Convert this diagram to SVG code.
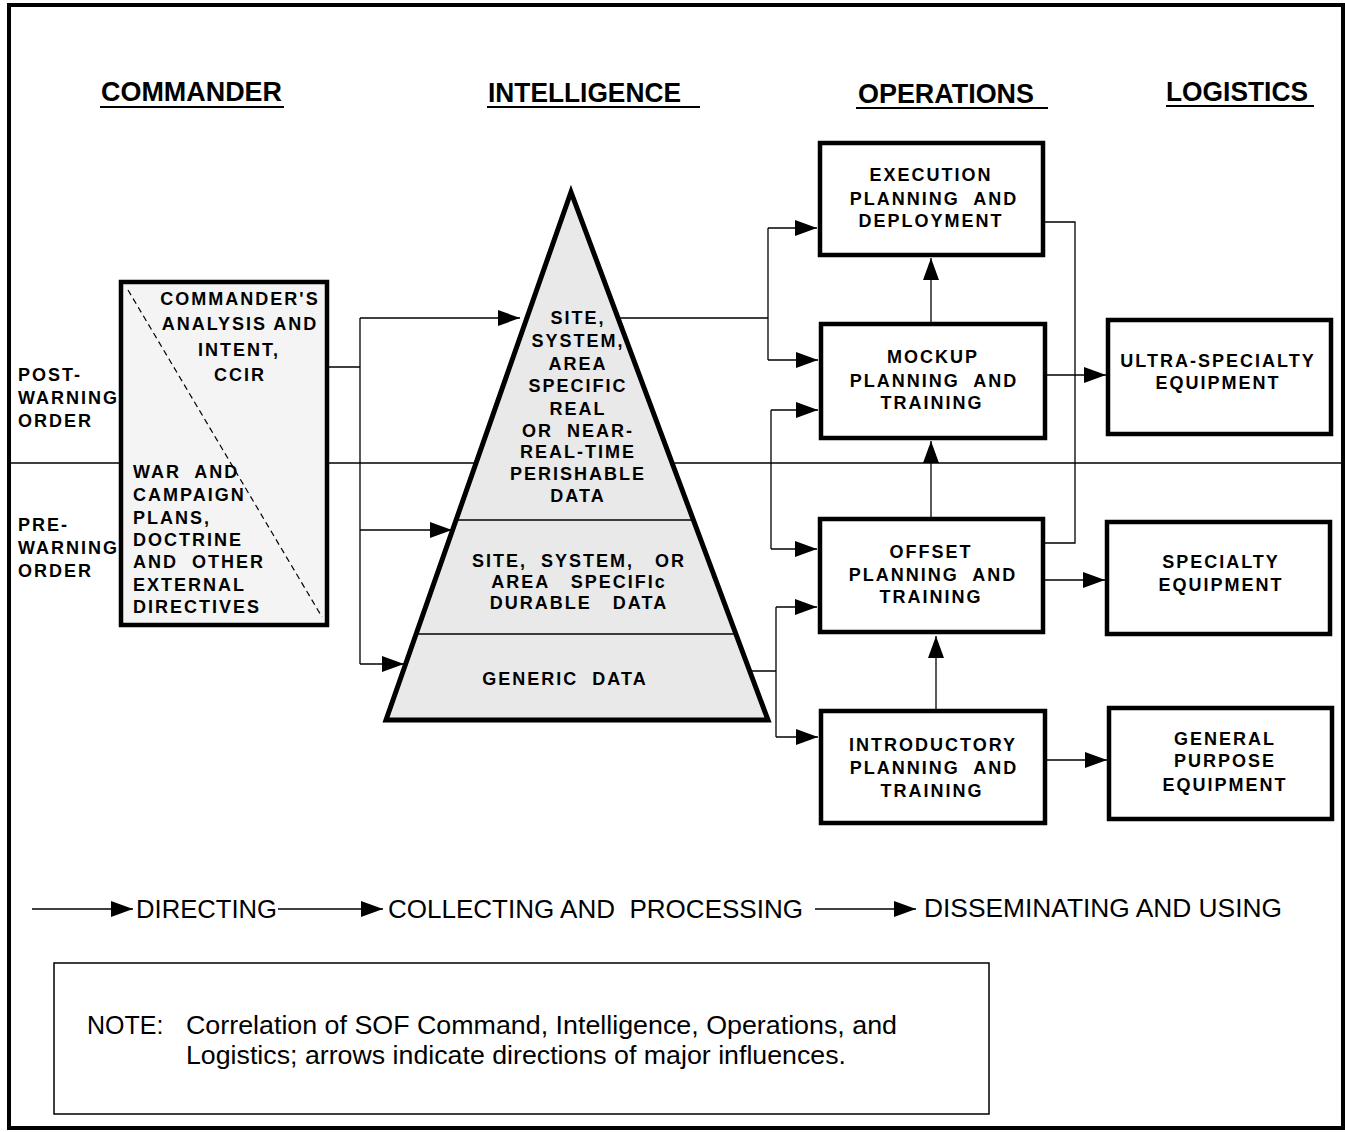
<svg xmlns="http://www.w3.org/2000/svg" width="1345" height="1132" viewBox="0 0 1345 1132">
<defs>
<style>
text { white-space: pre; fill: #000; }
.hdr { font-family: "Liberation Sans", Arial, sans-serif; font-size: 27px; font-weight: bold; }
.lbl { font-family: "Liberation Sans", Arial, sans-serif; font-size: 18px; font-weight: bold; letter-spacing: 2px; }
.mid { text-anchor: middle; }
.leg { font-family: "Liberation Sans", Arial, sans-serif; font-size: 26px; }
.note { font-family: "Liberation Sans", Arial, sans-serif; font-size: 25px; }
.box { fill: #fff; stroke: #000; stroke-width: 4.5; }
.ln { fill: none; stroke: #000; stroke-width: 1.3; }
.ul { stroke: #000; stroke-width: 2; }
</style>
<marker id="ah" markerWidth="22" markerHeight="16" refX="22" refY="8" orient="auto" markerUnits="userSpaceOnUse">
<path d="M0,0 L22,8 L0,16 z" fill="#000"/>
</marker>
</defs>
<rect width="1345" height="1132" fill="#fff"/>
<rect x="9" y="5" width="1334" height="1123" fill="none" stroke="#000" stroke-width="4"/>

<g id="headers">
<text class="hdr" x="101" y="101" textLength="181" lengthAdjust="spacingAndGlyphs">COMMANDER</text>
<line class="ul" x1="100" y1="107" x2="284" y2="107"/>
<text class="hdr" x="488" y="102" textLength="193" lengthAdjust="spacingAndGlyphs">INTELLIGENCE</text>
<line class="ul" x1="487" y1="107" x2="700" y2="107"/>
<text class="hdr" x="858" y="103" textLength="176" lengthAdjust="spacingAndGlyphs">OPERATIONS</text>
<line class="ul" x1="856" y1="108" x2="1048" y2="108"/>
<text class="hdr" x="1166" y="101" textLength="142" lengthAdjust="spacingAndGlyphs">LOGISTICS</text>
<line class="ul" x1="1166" y1="106" x2="1314" y2="106"/>
</g>

<g id="phase-labels">
<text class="lbl" x="18" y="381">POST-</text>
<text class="lbl" x="18" y="404">WARNING</text>
<text class="lbl" x="18" y="427">ORDER</text>
<text class="lbl" x="18" y="531">PRE-</text>
<text class="lbl" x="18" y="554">WARNING</text>
<text class="lbl" x="18" y="577">ORDER</text>
</g>

<g id="connectors">
<path class="ln" d="M9,463 H1343"/>
<path class="ln" d="M327,367 H360 M360,318 V664"/>
<path class="ln" d="M360,318 H520" marker-end="url(#ah)"/>
<path class="ln" d="M360,530 H452" marker-end="url(#ah)"/>
<path class="ln" d="M360,664 H404" marker-end="url(#ah)"/>
<path class="ln" d="M618,318 H768 M768,228 V360"/>
<path class="ln" d="M768,228 H817" marker-end="url(#ah)"/>
<path class="ln" d="M768,360 H818" marker-end="url(#ah)"/>
<path class="ln" d="M771,410 V549"/>
<path class="ln" d="M771,410 H818" marker-end="url(#ah)"/>
<path class="ln" d="M771,549 H817" marker-end="url(#ah)"/>
<path class="ln" d="M749,671 H776 M776,607 V737"/>
<path class="ln" d="M776,607 H817" marker-end="url(#ah)"/>
<path class="ln" d="M776,737 H818" marker-end="url(#ah)"/>
<path class="ln" d="M1043,222 H1075 V543 H1043"/>
<path class="ln" d="M931,324 V258" marker-end="url(#ah)"/>
<path class="ln" d="M931,519 V441" marker-end="url(#ah)"/>
<path class="ln" d="M936,711 V636" marker-end="url(#ah)"/>
<path class="ln" d="M1045,375 H1106" marker-end="url(#ah)"/>
<path class="ln" d="M1043,580 H1105" marker-end="url(#ah)"/>
<path class="ln" d="M1045,760 H1107" marker-end="url(#ah)"/>
</g>

<g id="commander">
<rect x="121" y="282" width="206" height="343" fill="#f4f4f4" stroke="#000" stroke-width="4.5"/>
<line x1="128" y1="290" x2="322" y2="617" stroke="#000" stroke-width="1.2" stroke-dasharray="6 4"/>
<text class="lbl mid" x="240" y="305">COMMANDER'S</text>
<text class="lbl mid" x="240" y="330">ANALYSIS AND</text>
<text class="lbl mid" x="239" y="356">INTENT,</text>
<text class="lbl mid" x="240" y="381">CCIR</text>
<text class="lbl" x="133" y="478">WAR  AND</text>
<text class="lbl" x="133" y="501">CAMPAIGN</text>
<text class="lbl" x="133" y="524">PLANS,</text>
<text class="lbl" x="133" y="546">DOCTRINE</text>
<text class="lbl" x="133" y="568">AND  OTHER</text>
<text class="lbl" x="133" y="591">EXTERNAL</text>
<text class="lbl" x="133" y="613">DIRECTIVES</text>
</g>

<g id="pyramid">
<polygon points="571,192 768,720 386,720" fill="#e9e9e9"/>
<line x1="456" y1="520" x2="693" y2="520" stroke="#000" stroke-width="1.3"/>
<line x1="416" y1="634" x2="736" y2="634" stroke="#000" stroke-width="1.3"/>
<polygon points="571,192 768,720 386,720" fill="none" stroke="#000" stroke-width="5" stroke-linejoin="miter"/>
<text class="lbl mid" x="578" y="324">SITE,</text>
<text class="lbl mid" x="578" y="347">SYSTEM,</text>
<text class="lbl mid" x="578" y="370">AREA</text>
<text class="lbl mid" x="578" y="392">SPECIFIC</text>
<text class="lbl mid" x="578" y="415">REAL</text>
<text class="lbl mid" x="578" y="437">OR  NEAR-</text>
<text class="lbl mid" x="578" y="458">REAL-TIME</text>
<text class="lbl mid" x="578" y="480">PERISHABLE</text>
<text class="lbl mid" x="578" y="502">DATA</text>
<text class="lbl mid" x="579" y="567">SITE,  SYSTEM,   OR</text>
<text class="lbl mid" x="579" y="588">AREA   SPECIFIc</text>
<text class="lbl mid" x="579" y="609">DURABLE   DATA</text>
<text class="lbl mid" x="565" y="685">GENERIC  DATA</text>
</g>

<g id="execution">
<rect class="box" x="820" y="143" width="223" height="112"/>
<text class="lbl mid" x="931" y="181">EXECUTION</text>
<text class="lbl mid" x="934" y="205">PLANNING  AND</text>
<text class="lbl mid" x="931" y="227">DEPLOYMENT</text>
</g>
<g id="mockup">
<rect class="box" x="821" y="324" width="224" height="114"/>
<text class="lbl mid" x="933" y="363">MOCKUP</text>
<text class="lbl mid" x="934" y="387">PLANNING  AND</text>
<text class="lbl mid" x="932" y="409">TRAINING</text>
</g>
<g id="offset">
<rect class="box" x="820" y="519" width="223" height="113"/>
<text class="lbl mid" x="931" y="558">OFFSET</text>
<text class="lbl mid" x="933" y="581">PLANNING  AND</text>
<text class="lbl mid" x="931" y="603">TRAINING</text>
</g>
<g id="introductory">
<rect class="box" x="821" y="711" width="224" height="112"/>
<text class="lbl mid" x="933" y="751">INTRODUCTORY</text>
<text class="lbl mid" x="934" y="774">PLANNING  AND</text>
<text class="lbl mid" x="932" y="797">TRAINING</text>
</g>

<g id="ultra-specialty">
<rect class="box" x="1108" y="320" width="223" height="114"/>
<text class="lbl mid" x="1218" y="367">ULTRA-SPECIALTY</text>
<text class="lbl mid" x="1218" y="389">EQUIPMENT</text>
</g>
<g id="specialty">
<rect class="box" x="1107" y="522" width="223" height="112"/>
<text class="lbl mid" x="1221" y="568">SPECIALTY</text>
<text class="lbl mid" x="1221" y="591">EQUIPMENT</text>
</g>
<g id="general-purpose">
<rect class="box" x="1109" y="708" width="223" height="111"/>
<text class="lbl mid" x="1225" y="745">GENERAL</text>
<text class="lbl mid" x="1225" y="767">PURPOSE</text>
<text class="lbl mid" x="1225" y="791">EQUIPMENT</text>
</g>

<g id="legend">
<path class="ln" d="M32,909 H133" marker-end="url(#ah)"/>
<text class="leg" x="136" y="918" textLength="141" lengthAdjust="spacingAndGlyphs">DIRECTING</text>
<path class="ln" d="M278,909 H383" marker-end="url(#ah)"/>
<text class="leg" x="388" y="918" textLength="415" lengthAdjust="spacingAndGlyphs">COLLECTING AND  PROCESSING</text>
<path class="ln" d="M815,909 H916" marker-end="url(#ah)"/>
<text class="leg" x="924" y="917" textLength="358" lengthAdjust="spacingAndGlyphs">DISSEMINATING AND USING</text>
</g>

<g id="note">
<rect x="54" y="963" width="935" height="151" fill="#fff" stroke="#000" stroke-width="1.5"/>
<text class="note" x="87" y="1034">NOTE:</text>
<text class="note" x="186" y="1034" textLength="711" lengthAdjust="spacingAndGlyphs">Correlation of SOF Command, Intelligence, Operations, and</text>
<text class="note" x="186" y="1064" textLength="660" lengthAdjust="spacingAndGlyphs">Logistics; arrows indicate directions of major influences.</text>
</g>
</svg>
